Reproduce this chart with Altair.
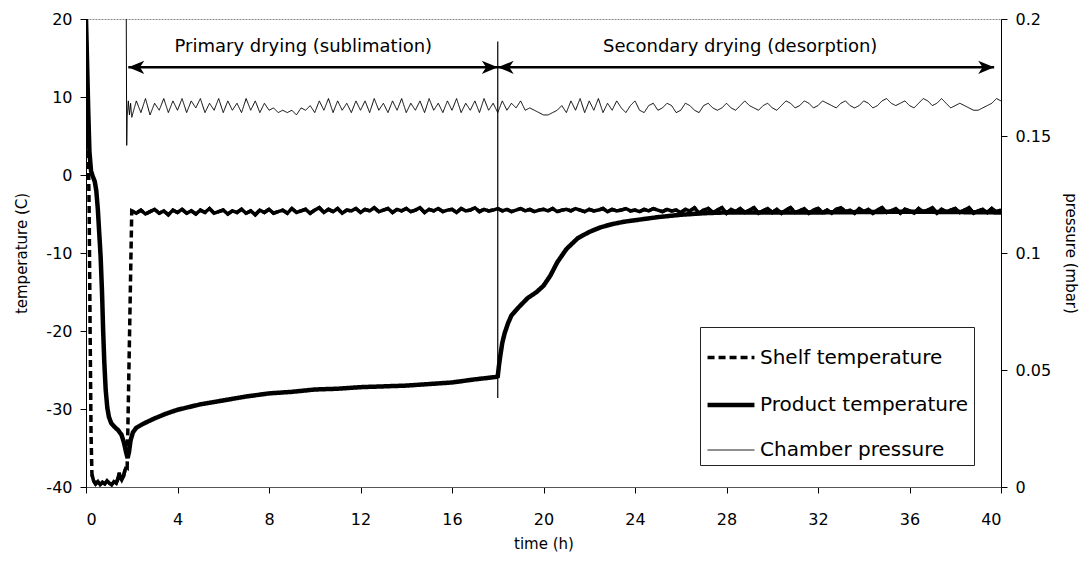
import altair as alt
import pandas as pd

FONT = "DejaVu Sans"
SERIES = ["Shelf temperature", "Product temperature", "Chamber pressure"]

# ---------------- data ----------------
# Shelf temperature: initial freezing segment (h, degC)
SHELF_T0 = [0.0, 0.08, 0.14, 0.18, 0.22, 0.26, 0.33, 0.42, 0.52, 0.62, 0.72, 0.82, 0.92,
            1.02, 1.12, 1.22, 1.32, 1.40, 1.45, 1.50, 1.56, 1.64, 1.70, 1.76, 1.80]
SHELF_V0 = [20.0, 8.0, -5.0, -20.0, -33.0, -38.4, -39.2, -39.6, -39.3, -39.7, -39.4, -39.6, -39.2,
            -39.5, -39.7, -39.3, -39.5, -38.9, -38.2, -38.8, -39.1, -38.6, -37.9, -37.4, -37.5]
# Shelf temperature during drying, sampled every 0.2 h from 2.0 h to 40.0 h
SHELF_GRID_START = 2.0
SHELF_GRID_STEP = 0.2
SHELF_V = [
    -4.6, -4.9, -4.5, -5.0, -4.7, -4.4, -4.9, -4.6, -5.1, -4.5,
    -4.8, -4.4, -4.9, -4.6, -5.0, -4.5, -4.8, -4.3, -4.9, -4.7,
    -4.5, -5.0, -4.6, -4.8, -4.4, -4.9, -4.6, -5.1, -4.5, -4.8,
    -4.4, -4.9, -4.7, -4.5, -4.9, -4.3, -4.8, -4.6, -4.4, -4.9,
    -4.5, -4.2, -4.8, -4.4, -4.7, -4.3, -4.9, -4.5, -4.6, -4.3,
    -4.8, -4.4, -4.6, -4.2, -4.7, -4.5, -4.3, -4.8, -4.4, -4.6,
    -4.3, -4.7, -4.5, -4.2, -4.8, -4.4, -4.6, -4.3, -4.7, -4.5,
    -4.4, -4.8, -4.3, -4.6, -4.5, -4.2, -4.7, -4.4, -4.6, -4.5,
    -4.3, -4.6, -4.4, -4.7, -4.5, -4.3, -4.6, -4.4, -4.7, -4.5,
    -4.4, -4.6, -4.3, -4.7, -4.5, -4.4, -4.6, -4.3, -4.5, -4.7,
    -4.4, -4.6, -4.5, -4.3, -4.7, -4.4, -4.6, -4.5, -4.3, -4.6,
    -4.5, -4.7, -4.4, -4.6, -4.3, -4.5, -4.7, -4.4, -4.6, -4.5,
    -4.8, -4.4, -4.6, -4.2, -4.9, -4.5, -4.3, -4.8, -4.5, -4.2,
    -4.9, -4.4, -4.7, -4.3, -4.8, -4.5, -4.2, -4.9, -4.6, -4.3,
    -4.8, -4.4, -4.9, -4.5, -4.2, -4.8, -4.6, -4.3, -4.9, -4.5,
    -4.3, -4.8, -4.5, -4.9, -4.4, -4.2, -4.7, -4.5, -4.9, -4.3,
    -4.7, -4.4, -4.9, -4.5, -4.2, -4.8, -4.6, -4.3, -4.9, -4.4,
    -4.6, -4.9, -4.3, -4.7, -4.5, -4.2, -4.9, -4.4, -4.7, -4.5,
    -4.3, -4.8, -4.5, -4.2, -4.9, -4.6, -4.4, -4.8, -4.3, -4.7,
    -4.5,
]

# Product temperature (h, degC)
PROD_T = [0.0, 0.05, 0.10, 0.15, 0.22, 0.30, 0.38, 0.45, 0.52, 0.58, 0.64, 0.70, 0.75, 0.80,
          0.86, 0.93, 1.00, 1.10, 1.25, 1.40, 1.55, 1.65, 1.75, 1.82, 1.88, 1.95, 2.05, 2.20,
          2.50, 3.00, 3.50, 4.00, 5.00, 6.00, 7.00, 8.00, 9.00, 10.0, 11.0, 12.0, 13.0, 14.0,
          15.0, 16.0, 17.0, 17.9, 18.0, 18.05, 18.12, 18.2, 18.3, 18.45, 18.6, 18.9, 19.3,
          19.7, 20.0, 20.3, 20.6, 21.0, 21.5, 22.0, 22.5, 23.0, 23.5, 24.0, 25.0, 26.0, 27.0,
          28.0, 32.0, 36.0, 40.0]
PROD_V = [20.0, 14.0, 8.0, 3.0, 0.5, -0.2, -0.8, -2.0, -4.5, -7.5, -10.5, -15.0, -20.0, -24.0,
          -27.5, -29.8, -31.0, -31.8, -32.3, -32.7, -33.3, -34.2, -35.5, -36.3, -35.5, -34.0,
          -33.0, -32.4, -31.9, -31.2, -30.6, -30.1, -29.4, -28.9, -28.4, -28.0, -27.8, -27.5,
          -27.4, -27.2, -27.1, -27.0, -26.8, -26.6, -26.2, -25.9, -25.8, -24.5, -23.0, -21.5,
          -20.3, -19.0, -18.0, -17.0, -15.8, -15.0, -14.2, -12.9, -11.2, -9.5, -8.1, -7.3,
          -6.7, -6.3, -6.0, -5.8, -5.4, -5.1, -4.9, -4.8, -4.8, -4.7, -4.8]

# Chamber pressure: start-up (h, mbar)
PRES_T0 = [1.76, 1.78, 1.80, 1.85, 1.90, 1.95]
PRES_V0 = [0.200, 0.146, 0.158, 0.165, 0.159, 0.164]
# Chamber pressure every 0.2 h from 2.0 h to 40.0 h (in 1e-3 mbar)
PRES_GRID_START = 2.0
PRES_GRID_STEP = 0.2
PRES_V = [
    158, 165, 160, 166, 159, 164, 161, 166, 160, 165,
    161, 166, 160, 165, 162, 166, 160, 164, 161, 166,
    160, 165, 161, 164, 160, 166, 161, 165, 160, 164,
    161, 162, 160, 161, 160, 161, 159, 162, 161, 163,
    160, 165, 161, 166, 160, 165, 161, 164, 160, 165,
    161, 165, 160, 166, 161, 164, 160, 165, 161, 166,
    160, 164, 161, 165, 160, 166, 161, 164, 160, 165,
    161, 166, 160, 164, 161, 165, 160, 166, 161, 164,
    160, 165, 161, 164, 162, 165, 161, 162, 161, 160,
    159, 159, 160, 161, 163, 160, 165, 161, 166, 160,
    165, 161, 166, 160, 164, 161, 165, 162, 160, 163,
    165, 161, 160, 163, 164, 161, 162, 164, 163, 160,
    161, 164, 163, 161, 160, 163, 164, 162, 161, 162,
    164, 162, 161, 163, 165, 163, 162, 161, 163, 164,
    162, 161, 163, 165, 164, 162, 163, 165, 164, 162,
    163, 165, 164, 163, 162, 164, 165, 163, 162, 163,
    165, 164, 162, 163, 165, 166, 164, 163, 164, 165,
    163, 162, 164, 166, 165, 163, 164, 166, 164, 162,
    163, 164, 163, 162, 161, 161, 162, 163, 164, 166,
    165,
]

# Annotations
PHASE_LABELS = ["Primary drying (sublimation)", "Secondary drying (desorption)"]
PHASE_LABEL_T = [9.5, 28.6]
PHASE_LABEL_Y = [16.4, 16.4]
ARROW_FROM = [1.85, 18.0]
ARROW_TO = [18.0, 39.7]
ARROW_Y = [13.8, 13.8]
SEP_T = [18.0]
SEP_TOP = [17.1]
SEP_BOTTOM = [-28.6]

X_TICKS = [0, 4, 8, 12, 16, 20, 24, 28, 32, 36, 40]
T_TICKS = [-40, -30, -20, -10, 0, 10, 20]
P_TICKS = [0, 0.05, 0.1, 0.15, 0.2]

# ---------------- tables ----------------
shelf_t = SHELF_T0 + [round(SHELF_GRID_START + i * SHELF_GRID_STEP, 3) for i in range(len(SHELF_V))]
shelf_v = SHELF_V0 + SHELF_V
shelf = pd.DataFrame({"time": shelf_t, "temp": shelf_v, "series": SERIES[0]})
shelf["seg"] = [0 if t < 0.26 else (1 if t <= 1.76 else (2 if t >= 2.0 else 9)) for t in shelf_t]
prod = pd.DataFrame({"time": PROD_T, "temp": PROD_V, "series": SERIES[1]})
temps = pd.concat([shelf.drop(columns="seg"), prod], ignore_index=True)
shelf_solid = shelf[shelf["seg"].isin([1, 2])]

pres_t = PRES_T0 + [round(PRES_GRID_START + i * PRES_GRID_STEP, 3) for i in range(len(PRES_V))]
pres_v = PRES_V0 + [v / 1000 for v in PRES_V]
pres = pd.DataFrame({"time": pres_t, "pres": pres_v, "series": SERIES[2]})

labels = pd.DataFrame({"time": PHASE_LABEL_T, "temp": PHASE_LABEL_Y, "label": PHASE_LABELS})
arrows = pd.DataFrame({"time": ARROW_FROM, "time2": ARROW_TO, "temp": ARROW_Y})
heads_right = pd.DataFrame({"time": ARROW_TO, "temp": ARROW_Y})
heads_left = pd.DataFrame({"time": ARROW_FROM, "temp": ARROW_Y})
sep = pd.DataFrame({"time": SEP_T, "temp": SEP_TOP, "temp2": SEP_BOTTOM})

# ---------------- encodings ----------------
x_enc = alt.X("time:Q", scale=alt.Scale(domain=[0, 40], nice=False, zero=False),
              axis=alt.Axis(values=X_TICKS, title="time (h)", labelPadding=18, titlePadding=9,
                            domainColor="#555"))
y_temp_axis = alt.Axis(values=T_TICKS, title="temperature (C)", orient="left",
                       labelExpr="'' + datum.value", labelPadding=8, titlePadding=16)
y_temp = alt.Y("temp:Q", scale=alt.Scale(domain=[-40, 20], nice=False, zero=False), axis=y_temp_axis)
y_pres = alt.Y("pres:Q", scale=alt.Scale(domain=[0, 0.2], nice=False, zero=False),
               axis=alt.Axis(values=P_TICKS, title="pressure (mbar)", orient="right",
                             format=".2~f", labelPadding=8, titlePadding=12))

legend = alt.Legend(title=None, orient="none", legendX=614, legendY=308, symbolType="stroke",
                    symbolSize=2200, labelFontSize=20, labelFont=FONT, labelColor="black",
                    labelLimit=0, strokeColor="#222", fillColor="white", padding=5,
                    rowPadding=11, labelOffset=3)
color = alt.Color("series:N", scale=alt.Scale(domain=SERIES, range=["black"] * 3), legend=legend)
dash = alt.StrokeDash("series:N", scale=alt.Scale(domain=SERIES, range=[[7, 4], [1, 0], [1, 0]]),
                      legend=legend)
width = alt.StrokeWidth("series:N", scale=alt.Scale(type="ordinal", domain=SERIES,
                                                    range=[3.5, 4.5, 1.0]),
                        legend=legend)

temp_lines = alt.Chart(temps).mark_line(clip=True).encode(
    x=x_enc, y=y_temp, color=color, strokeDash=dash, strokeWidth=width, detail="series:N")
shelf_plateau = alt.Chart(shelf_solid).mark_line(color="black", strokeWidth=3.5, clip=True).encode(
    x=x_enc, y=y_temp, detail="seg:N")
sep_rule = alt.Chart(sep).mark_rule(color="black", strokeWidth=1.2).encode(
    x=x_enc, y=y_temp, y2="temp2:Q")
arrow_rule = alt.Chart(arrows).mark_rule(color="black", strokeWidth=2.5).encode(
    x=x_enc, x2="time2:Q", y=y_temp)
head_r = alt.Chart(heads_right).mark_point(
    shape="M0,0 L-2.2,-0.9 L-1.6,0 L-2.2,0.9 Z", filled=True, size=210, color="black",
    opacity=1, strokeWidth=0).encode(x=x_enc, y=y_temp)
head_l = alt.Chart(heads_left).mark_point(
    shape="M0,0 L2.2,-0.9 L1.6,0 L2.2,0.9 Z", filled=True, size=210, color="black",
    opacity=1, strokeWidth=0).encode(x=x_enc, y=y_temp)
label_text = alt.Chart(labels).mark_text(font=FONT, fontSize=18, color="black",
                                         baseline="middle", align="center").encode(
    x=x_enc, y=y_temp, text="label:N")

temp_layer = alt.layer(temp_lines, shelf_plateau, sep_rule, arrow_rule, head_r, head_l, label_text)

pres_layer = alt.Chart(pres).mark_line(clip=True).encode(
    x=x_enc, y=y_pres, color=color, strokeDash=dash, strokeWidth=width)

chart = alt.layer(temp_layer, pres_layer).resolve_scale(y="independent").properties(
    width=915, height=468,
    autosize=alt.AutoSizeParams(type="none"),
    padding={"left": 78, "top": 11, "right": 78, "bottom": 68},
    background="white",
).configure_view(stroke="#888", strokeWidth=1, strokeDash=[2, 1]).configure_axis(
    labelFont=FONT, labelFontSize=16, labelColor="black",
    titleFont=FONT, titleFontSize=15, titleFontWeight="normal", titleColor="black",
    domainColor="black", tickColor="black", tickSize=6, grid=False,
)

chart.save("out.html", embed_options={"renderer": "svg", "actions": False})
